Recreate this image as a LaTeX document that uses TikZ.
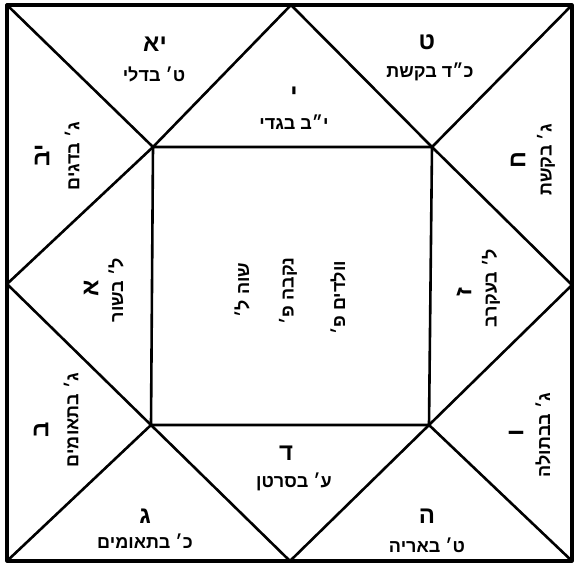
\documentclass[tikz,border=0pt]{standalone}
\usepackage{fontspec}
\newfontfamily\hebfont[Script=Hebrew]{Liberation Sans}
\TeXXeTstate=1
\newcommand{\heb}[1]{\beginR #1\endR}

\begin{document}
\begin{tikzpicture}[x=1pt, y=-1pt,
    frame/.style={line width=3.2pt, line join=round},
    chart/.style={line width=2.6pt, line cap=round, line join=round},
    num/.style={font=\hebfont\bfseries\fontsize{24}{26}\selectfont, inner sep=0pt},
    txt/.style={font=\hebfont\bfseries\fontsize{18}{20}\selectfont, inner sep=0pt}]
    \useasboundingbox (0,0) rectangle (579,570);
    % outer corners and side midpoints
    \coordinate (tl) at (7,5);
    \coordinate (tr) at (572,5);
    \coordinate (br) at (572,561);
    \coordinate (bl) at (7,561);
    \coordinate (tm) at (291,5);
    \coordinate (rm) at (572,285);
    \coordinate (bm) at (290,561);
    \coordinate (lm) at (7,284);
    % inner square
    \coordinate (itl) at (153,147);
    \coordinate (itr) at (432,147);
    \coordinate (ibr) at (429,425);
    \coordinate (ibl) at (151,425);
    \draw[frame] (tl) rectangle (br);
    \draw[chart] (tm) -- (itr) -- (rm) -- (ibr) -- (bm) -- (ibl) -- (lm) -- (itl) -- cycle;
    \draw[chart] (itl) -- (itr) -- (ibr) -- (ibl) -- cycle;
    \draw[chart] (tl) -- (itl);
    \draw[chart] (tr) -- (itr);
    \draw[chart] (br) -- (ibr);
    \draw[chart] (bl) -- (ibl);
    % top row
    \node[num] (n11) at (155,44) {\heb{יא}};
    \node[txt] (t11) at (154,74) {\heb{ט׳ בדלי}};
    \node[num] (n10) at (294,94) {\heb{י}};
    \node[txt] (t10) at (294,122) {\heb{י״ב בגדי}};
    \node[num] (n9) at (427,42) {\heb{ט}};
    \node[txt] (t9) at (430,72) {\heb{כ״ד בקשת}};
    % left side
    \node[num, rotate=90] (n12) at (42,155) {\heb{יב}};
    \node[txt, rotate=90] (t12) at (72,156) {\heb{ג׳ בדגים}};
    \node[num, rotate=90] (n1) at (91,288) {\heb{א}};
    \node[txt, rotate=90] (t1) at (116,290) {\heb{ל׳ בשור}};
    \node[num, rotate=90] (n2) at (41,430) {\heb{ב}};
    \node[txt, rotate=90] (t2) at (71,420) {\heb{ג׳ בתאומים}};
    % right side
    \node[num, rotate=90] (n8) at (518,160) {\heb{ח}};
    \node[txt, rotate=90] (t8) at (546,160) {\heb{ג׳ בקשת}};
    \node[num, rotate=90] (n7) at (464,292) {\heb{ז}};
    \node[txt, rotate=90] (t7) at (491,288) {\heb{ל׳ בעקרב}};
    \node[num, rotate=90] (n6) at (516,433) {\heb{ו}};
    \node[txt, rotate=90] (t6) at (543,435) {\heb{ג׳ בבתולה}};
    % bottom row
    \node[num] (n4) at (286,453) {\heb{ד}};
    \node[txt] (t4) at (294,482) {\heb{ע׳ בסרטן}};
    \node[num] (n3) at (145,516) {\heb{ג}};
    \node[txt] (t3) at (145,541) {\heb{כ׳ בתאומים}};
    \node[num] (n5) at (427,516) {\heb{ה}};
    \node[txt] (t5) at (427,545) {\heb{ט׳ באריה}};
    % centre
    \node[txt, rotate=90] (c1) at (242,290) {\heb{שוה ל׳}};
    \node[txt, rotate=90] (c2) at (288,291) {\heb{נקבה פ׳}};
    \node[txt, rotate=90] (c3) at (338,298) {\heb{וולדים פ׳}};
\end{tikzpicture}
\end{document}
